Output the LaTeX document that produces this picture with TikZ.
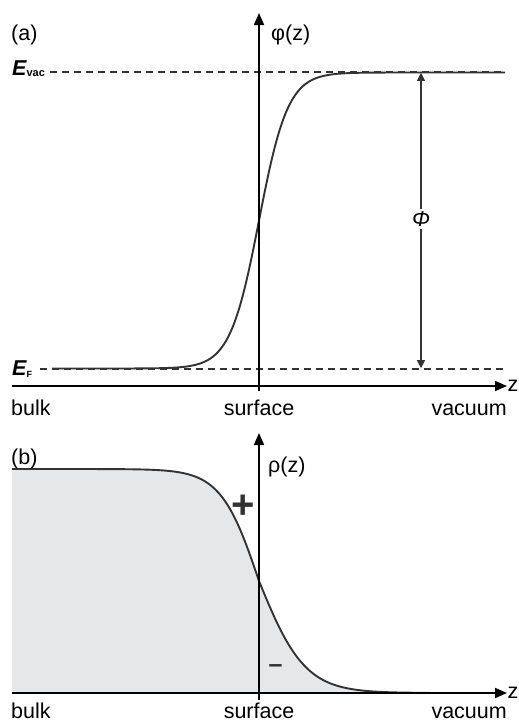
\documentclass[tikz,border=0pt]{standalone}
\usepackage{fontspec}
\setmainfont{Liberation Sans}
\usetikzlibrary{arrows.meta}
\definecolor{curvec}{HTML}{333333}
\definecolor{areagray}{HTML}{E6E7E8}
\begin{document}
\begin{tikzpicture}[x=1pt,y=-1pt,
  every node/.style={font=\fontsize{21.5}{25}\selectfont, text=black, inner sep=0pt},
  axisline/.style={line width=1.7pt, draw=black, -{Triangle[length=12pt,width=10pt]}},
  levelline/.style={line width=1.1pt, draw=curvec, dash pattern=on 7pt off 5pt},
  curveline/.style={line width=1.9pt, draw=curvec},
  gaparrow/.style={line width=1.1pt, draw=curvec, {Triangle[length=8pt,width=8pt]}-{Triangle[length=8pt,width=8pt]}},
  signlabel/.style={text=curvec, font=\bfseries},
]
\useasboundingbox (0,0) rectangle (519,723);

% ---------- panel (a) ----------
\coordinate (evacL) at (50,72);
\coordinate (evacR) at (505,72);
\coordinate (efL) at (40,369);
\coordinate (efR) at (505,369);
\draw[levelline] (evacL) -- (evacR);
\draw[levelline] (efL) -- (efR);

\draw[curveline] plot[domain=52:505, samples=220] (\x, {220.5 - 148*tanh((\x-259)/29)});

\coordinate (zaL) at (12,386);
\coordinate (zaR) at (507,386);
\coordinate (vaB) at (259,391);
\coordinate (vaT) at (259,13);
\draw[axisline] (zaL) -- (zaR);
\draw[axisline] (vaB) -- (vaT);

\node[anchor=base west] (lbla) at (11,40) {(a)};
\node[anchor=base west] (phiz) at (271,40) {φ(z)};
\node[anchor=base west] (za) at (507.5,391.5) {z};
\node[anchor=base west] (Evac) at (12,75) {{\bfseries\itshape E}\raisebox{-1pt}{\fontsize{11}{12}\selectfont\bfseries vac}};
\node[anchor=base west] (EF) at (12,375) {{\bfseries\itshape E}\raisebox{-2pt}{\fontsize{9}{10}\selectfont\bfseries F}};

\coordinate (phT) at (421,72.8);
\coordinate (phB) at (421,368.2);
\draw[gaparrow] (phB) -- (phT);
\node[fill=white, inner sep=2pt, font=\fontsize{21.5}{25}\selectfont\itshape] (Phi) at (421,219) {Φ};

\node[anchor=base west] (bulka) at (11,415) {bulk};
\node[anchor=base] (surfa) at (259,415) {surface};
\node[anchor=base east] (vaca) at (507,415) {vacuum};

% ---------- panel (b) ----------
\fill[areagray] (12,693) -- plot[domain=12:259, samples=120] (\x, {581 + 112*tanh((\x-259)/38)})
  -- plot[domain=259:430, samples=100] (\x, {581 + 112*tanh((\x-259)/46)}) -- (430,693) -- cycle;
\draw[curveline] plot[domain=12:259, samples=120] (\x, {581 + 112*tanh((\x-259)/38)})
  -- plot[domain=259:430, samples=100] (\x, {581 + 112*tanh((\x-259)/46)});

\coordinate (zbL) at (12,693);
\coordinate (zbR) at (507,693);
\coordinate (vbB) at (259,700);
\coordinate (vbT) at (259,433);
\draw[axisline] (zbL) -- (zbR);
\draw[axisline] (vbB) -- (vbT);

\node[anchor=base west] (lblb) at (11,464) {(b)};
\node[anchor=base west] (rhoz) at (268,472) {ρ(z)};
\node[anchor=base west] (zb) at (507.5,698.5) {z};
\node[signlabel, anchor=base, font=\fontsize{40}{44}\selectfont\bfseries] (plus) at (243,518) {+};
\node[signlabel, anchor=base, font=\fontsize{25}{28}\selectfont\bfseries] (minus) at (275.5,672) {–};

\node[anchor=base west] (bulkb) at (11,718) {bulk};
\node[anchor=base] (surfb) at (259,718) {surface};
\node[anchor=base east] (vacb) at (507,718) {vacuum};
\end{tikzpicture}
\end{document}
